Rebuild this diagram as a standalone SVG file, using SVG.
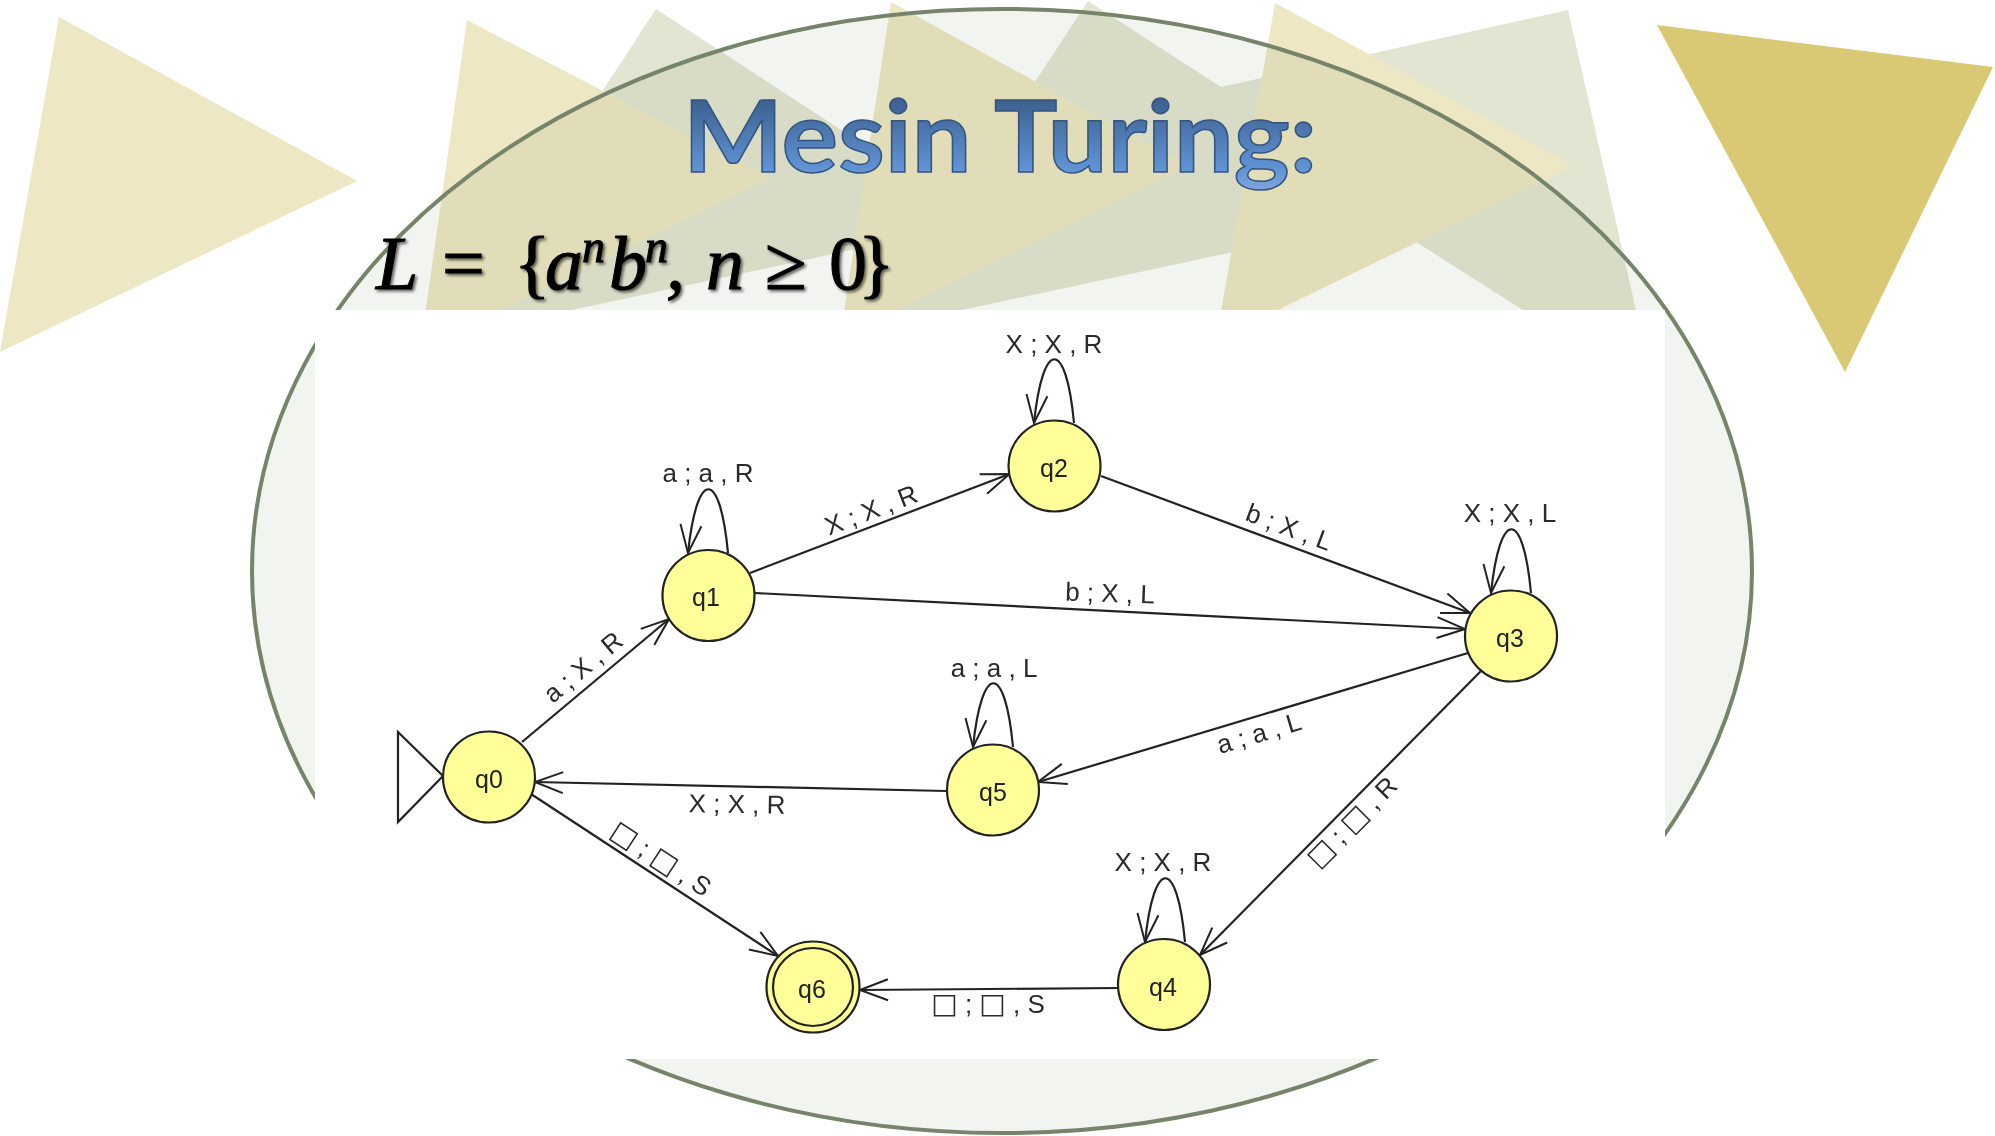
<svg xmlns="http://www.w3.org/2000/svg" width="1995" height="1136" viewBox="0 0 1995 1136">
<defs>
<linearGradient id="titleFill" gradientUnits="userSpaceOnUse" x1="0" y1="100" x2="0" y2="195">
<stop offset="0" stop-color="#3c6190"/><stop offset="0.7" stop-color="#5f91d2"/><stop offset="1" stop-color="#86abdc"/>
</linearGradient>
<filter id="softShadow" x="-5%" y="-10%" width="110%" height="125%">
<feDropShadow dx="2" dy="2" stdDeviation="1.5" flood-color="#000" flood-opacity="0.6"/>
</filter>
<filter id="blur" x="-5%" y="-5%" width="110%" height="110%"><feGaussianBlur stdDeviation="0.45"/></filter>
<marker id="arrow" markerUnits="userSpaceOnUse" viewBox="-32 -14 36 28" refX="0" refY="0" markerWidth="36" markerHeight="28" orient="auto" overflow="visible">
<path d="M-28,-10.500 L0,0 L-28,10.500" fill="none" stroke="#222" stroke-width="2"/>
</marker>
</defs>
<style>
.beige{fill:#ede7c3}
.olive{fill:#e3e5d3}
.edge{fill:none;stroke:#222;stroke-width:2.2;marker-end:url(#arrow)}
.state{fill:#ffff99;stroke:#222;stroke-width:2.2}
.lbl{font-family:"Liberation Sans",Arial,"DejaVu Sans",sans-serif;font-size:26px;fill:#2a2a2a;text-anchor:middle}
.box{font-family:"DejaVu Sans",sans-serif;font-size:28px}
.nlbl{font-family:"Liberation Sans",Arial,sans-serif;font-size:25px;fill:#222;text-anchor:middle}
</style>
<rect width="1995" height="1136" fill="#fff"/>
<g id="background">
<polygon class="olive" points="656,9 982,222 441,338"/>
<polygon class="olive" points="1568,10 1655,394 1185,95"/>
<polygon class="olive" points="1088,1 1416,213 873,329"/>
<polygon class="beige" points="59,17 357,181 0,352"/>
<polygon class="beige" points="467,20 770,178 420,350"/>
<polygon class="beige" points="891,2 1189,166 840,338"/>
<polygon class="beige" points="1275,3 1574,166 1216,340"/>
<polygon points="1657,25 1993,67 1845,372" fill="#d9c874"/>
<ellipse cx="1002" cy="571" rx="750" ry="562" fill="#5a6e46" fill-opacity="0.08" stroke="#76846a" stroke-width="4"/>
<rect x="315" y="310" width="1350" height="749" fill="#fff"/>
</g>
<text id="title" x="683" y="172" font-family="Lato,'Open Sans',sans-serif" font-weight="700" font-size="100" fill="url(#titleFill)" stroke="#34557f" stroke-width="1.500" textLength="634" lengthAdjust="spacingAndGlyphs">Mesin Turing:</text>
<text id="formula" y="289" font-family="'Liberation Serif','Times New Roman',serif" font-size="76" fill="#000" stroke="#000" stroke-width="1" filter="url(#softShadow)"><tspan x="376" font-style="italic">L</tspan><tspan x="442">=</tspan><tspan x="514">{</tspan><tspan x="545" font-style="italic">a</tspan><tspan x="582" y="262" font-size="46" font-style="italic">n</tspan><tspan x="609" y="289" font-style="italic">b</tspan><tspan x="645" y="262" font-size="46" font-style="italic">n</tspan><tspan x="666" y="289" font-style="italic">,</tspan><tspan x="706" font-style="italic">n</tspan><tspan x="765">≥</tspan><tspan x="829">0</tspan><tspan x="858">}</tspan></text>
<g id="connectors" filter="url(#blur)">
<polygon id="start" points="398,732 443,776 398,822" fill="#fff" stroke="#222" stroke-width="2.200"/>
<path class="edge" d="M522,742 L669,619"/>
<path class="edge" d="M750,573 L1009.500,474"/>
<path class="edge" d="M755,593 L1465,629"/>
<path class="edge" d="M1101,476 L1470,613"/>
<path class="edge" d="M1468,653 L1038,782"/>
<path class="edge" d="M1481,671 L1200,955"/>
<path class="edge" d="M946,791 L535,782"/>
<path class="edge" d="M531,794 L778,956"/>
<path class="edge" d="M1119,988 L860,990"/>
<path class="edge" d="M728,553 C720,468 697,468 688,553"/>
<path class="edge" d="M1074,423 C1066,338 1043,338 1034,423"/>
<path class="edge" d="M1531,593 C1523,508 1500,508 1491,593"/>
<path class="edge" d="M1013,747 C1005,662 982,662 973,747"/>
<path class="edge" d="M1185,942 C1177,857 1154,857 1145,942"/>
<text class="lbl" x="708" y="482">a ; a , R</text>
<text class="lbl" transform="translate(583,667) rotate(-40)" y="9">a ; X , R</text>
<text class="lbl" transform="translate(871,510) rotate(-21)" y="9">X ; X , R</text>
<text class="lbl" transform="translate(1110,593) rotate(2)" y="9">b ; X , L</text>
<text class="lbl" transform="translate(1289,527) rotate(20.400)" y="9">b ; X , L</text>
<text class="lbl" transform="translate(1259,733) rotate(-16.700)" y="9">a ; a , L</text>
<text class="lbl" transform="translate(1352,822) rotate(-45.300)" y="9"><tspan class="box">□</tspan> ; <tspan class="box">□</tspan> , R</text>
<text class="lbl" transform="translate(737,804) rotate(1)" y="9">X ; X , R</text>
<text class="lbl" transform="translate(661,859) rotate(33)" y="9"><tspan class="box">□</tspan> ; <tspan class="box">□</tspan> , S</text>
<text class="lbl" x="988" y="1013"><tspan class="box">□</tspan> ; <tspan class="box">□</tspan> , S</text>
<text class="lbl" x="1163" y="871">X ; X , R</text>
<text class="lbl" x="994" y="677">a ; a , L</text>
<text class="lbl" x="1054" y="353">X ; X , R</text>
<text class="lbl" x="1510" y="522">X ; X , L</text>
</g>
<g id="q0" filter="url(#blur)"><ellipse class="state" cx="489" cy="777" rx="46" ry="45.500"/><text class="nlbl" x="489" y="788">q0</text></g>
<g id="q1" filter="url(#blur)"><ellipse class="state" cx="708.500" cy="595.500" rx="46" ry="45.500"/><text class="nlbl" x="706" y="606">q1</text></g>
<g id="q2" filter="url(#blur)"><ellipse class="state" cx="1054.500" cy="466" rx="46" ry="45.500"/><text class="nlbl" x="1054" y="477">q2</text></g>
<g id="q3" filter="url(#blur)"><ellipse class="state" cx="1511" cy="636" rx="46" ry="45.500"/><text class="nlbl" x="1510" y="647">q3</text></g>
<g id="q4" filter="url(#blur)"><ellipse class="state" cx="1164" cy="984.500" rx="46" ry="45.500"/><text class="nlbl" x="1163" y="996">q4</text></g>
<g id="q5" filter="url(#blur)"><ellipse class="state" cx="993" cy="790" rx="46" ry="45.500"/><text class="nlbl" x="993" y="801">q5</text></g>
<g id="q6" filter="url(#blur)"><ellipse class="state" cx="813" cy="987" rx="46.500" ry="45.500"/><ellipse class="state" cx="813" cy="987" rx="40" ry="39"/><text class="nlbl" x="812" y="998">q6</text></g>
</svg>
